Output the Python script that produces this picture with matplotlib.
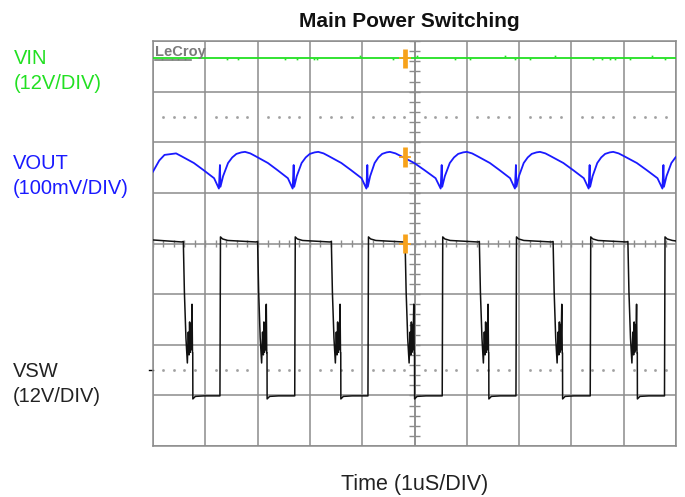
import matplotlib
matplotlib.use("Agg")
import matplotlib.pyplot as plt
import numpy as np

# scope screen in divisions: 10 across (1uS/DIV), 8 high
vin_level = 7.67
vin_blip_x = [0.17, 0.36, 0.48, 0.61, 1.41, 1.63, 2.52, 2.75, 3.07, 3.13, 3.96, 4.59,
              5.04, 5.77, 6.06, 6.73, 6.92, 7.21, 7.69, 8.42, 8.58, 8.74, 8.84, 9.12, 9.54, 9.79]
vin_blip_dy = [-0.03, -0.03, -0.03, -0.03, -0.03, -0.03, -0.03, -0.03, -0.03, -0.03, 0.04, -0.03,
               0.04, -0.03, -0.03, 0.04, -0.03, -0.03, 0.04, -0.03, -0.03, -0.03, -0.03, -0.03, 0.04, -0.03]

vout_troughs = [1.26, 2.67, 4.08, 5.50, 6.92, 8.33, 9.74]
vout_peaks = [0.34, 1.76, 3.16, 4.53, 6.00, 7.40, 8.80]
vout_start = 5.42
vout_rise_f = [0.0, 0.04, 0.06, 0.16, 0.35, 0.51, 0.67, 0.86, 1.0]
vout_rise_v = [5.085, 5.55, 5.12, 5.33, 5.59, 5.70, 5.77, 5.80, 5.81]
vout_fall_f = [0.11, 0.21, 0.48, 0.68, 0.90]
vout_fall_v = [5.78, 5.73, 5.59, 5.45, 5.29]

vsw_falls = [0.58, 2.00, 3.41, 4.82, 6.24, 7.65, 9.08]
vsw_rises = [1.28, 2.71, 4.11, 5.53, 6.94, 8.36, 9.78]
vsw_high = 4.05
vsw_low = 0.99
fall_dt = [0.000, 0.020, 0.050, 0.077, 0.095, 0.110, 0.120, 0.130, 0.140, 0.150, 0.166, 0.175, 0.180, 0.182, 0.230]
fall_v = [4.04, 3.05, 2.13, 1.64, 2.25, 1.80, 2.45, 1.85, 2.40, 1.90, 2.80, 1.84, 1.84, 0.93, 0.98]

marker_x = 4.82
marker_y = [7.66, 5.71, 4.00]

green = '#22e022'
blue = '#1a1aff'
grid_c = '#8c8c8c'
orange = '#f7a21b'

# --- build traces ---
vout_t, vout_v = [0.0, 0.12, 0.22], [vout_start, 5.64, 5.75]
prev_peak = vout_peaks[0]
for tr, pk in zip(vout_troughs, vout_peaks[1:] + [None]):
    for f, v in zip(vout_fall_f, vout_fall_v):
        t = prev_peak + f * (tr - prev_peak)
        if t > vout_t[-1]:
            vout_t.append(t); vout_v.append(v)
    end = pk if pk is not None else tr + 0.49
    for f, v in zip(vout_rise_f, vout_rise_v):
        vout_t.append(tr + f * (end - tr)); vout_v.append(v)
    prev_peak = end

vsw_t, vsw_v = [0.0], [4.07]
for tf, tr in zip(vsw_falls, vsw_rises):
    vsw_t += [tf - 0.03]; vsw_v += [4.03]
    vsw_t += [tf + d for d in fall_dt]; vsw_v += fall_v
    vsw_t += [tf + 0.40, tr - 0.01, tr, tr + 0.01, tr + 0.05, tr + 0.15]
    vsw_v += [vsw_low, vsw_low, vsw_low, 4.13, 4.09, 4.06]
vsw_t.append(10.0); vsw_v.append(vsw_high)

# --- figure ---
fig = plt.figure(figsize=(6.85, 4.97), dpi=100)
ax = fig.add_axes([153/685, 51/497, 523/685, 405/497])
ax.set_xlim(0, 10)
ax.set_ylim(0, 8)
ax.set_xticks(range(11))
ax.set_yticks(range(9))
ax.grid(True, color=grid_c, lw=1.1)
ax.tick_params(length=0, labelbottom=False, labelleft=False)
for s in ax.spines.values():
    s.set_color(grid_c)
    s.set_linewidth(1.1)

# center axis ticks
ty = [k * 0.2 for k in range(41)]
ax.vlines(5, 0, 8, color=grid_c, lw=1.1)
ax.hlines(ty, 5 - 0.1, 5 + 0.1, color=grid_c, lw=1.0)
tx = [k * 0.2 for k in range(51)]
ax.vlines(tx, 4 - 0.07, 4 + 0.07, color=grid_c, lw=1.0)

# dotted reference levels
dots = [k * 0.2 for k in range(50) if k % 5 != 0]
for lvl in (6.5, 1.5):
    ax.plot(dots, [lvl] * len(dots), ls='none', marker='s', ms=0.9, color='#a0a0a0')
ax.plot([-0.07, 0], [1.5, 1.5], color='black', lw=1, clip_on=False)

# traces
ax.plot([0, 10], [vin_level, vin_level], color=green, lw=1.3, zorder=3)
ax.plot(vin_blip_x, [vin_level + d for d in vin_blip_dy], ls='none', marker='s', ms=1.2,
        mew=0, color=green, zorder=3)
ax.plot(vout_t, vout_v, color=blue, lw=1.3, zorder=3)
ax.plot(vsw_t, vsw_v, color='#111111', lw=1.1, zorder=3)

for y in marker_y:
    ax.plot([marker_x, marker_x], [y - 0.19, y + 0.19], color=orange, lw=3.4,
            solid_capstyle='butt', zorder=5)
    ax.plot([marker_x - 0.09, marker_x + 0.09], [y, y], color=orange, lw=1.3, zorder=5)

# LeCroy logo
fig.text(155/685, 1 - 56/497, 'LeCroy', fontsize=10.5, fontweight='bold', color='#7a7a7a',
         family='Liberation Sans', va='baseline')
fig.add_artist(plt.Line2D([155/685, 191/685], [1 - 60/497, 1 - 60/497], color='#7a7a7a', lw=1.2))

# labels
font = 'Liberation Sans'
fig.text(409/685, 1 - 26.7/497, 'Main Power Switching', fontsize=15, fontweight='bold',
         family=font, ha='center', va='baseline', color='#111111')
fig.text(415/685, 1 - 490/497, 'Time (1uS/DIV)', fontsize=15.5, family=font,
         ha='center', va='baseline', color='#222222')
fig.text(14/685, 1 - 64/497, 'VIN', fontsize=14.5, family=font, color=green, va='baseline')
fig.text(14/685, 1 - 89/497, '(12V/DIV)', fontsize=14.5, family=font, color=green, va='baseline')
fig.text(12.7/685, 1 - 169/497, 'VOUT', fontsize=14.5, family=font, color=blue, va='baseline')
fig.text(12.7/685, 1 - 194/497, '(100mV/DIV)', fontsize=14.5, family=font, color=blue, va='baseline')
fig.text(13/685, 1 - 377/497, 'VSW', fontsize=14.5, family=font, color='#222222', va='baseline')
fig.text(13/685, 1 - 402/497, '(12V/DIV)', fontsize=14.5, family=font, color='#222222', va='baseline')

fig.savefig('out.png', dpi=100)
